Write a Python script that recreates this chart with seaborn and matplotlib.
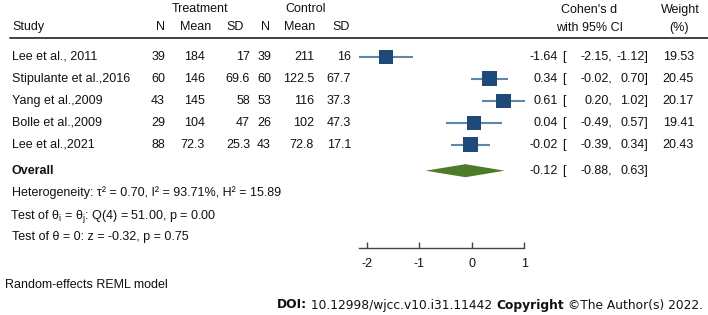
import matplotlib
matplotlib.use("Agg")
import matplotlib.pyplot as plt
import seaborn as sns
import pandas as pd
import numpy as np

# ---------------- data ----------------
studies = ["Lee et al., 2011", "Stipulante et al.,2016", "Yang et al.,2009",
           "Bolle et al.,2009", "Lee et al.,2021"]
t_n = [39, 60, 43, 29, 88]
t_mean = [184, 146, 145, 104, 72.3]
t_sd = [17, 69.6, 58, 47, 25.3]
c_n = [39, 60, 53, 26, 43]
c_mean = [211, 122.5, 116, 102, 72.8]
c_sd = [16, 67.7, 37.3, 47.3, 17.1]
d = [-1.64, 0.34, 0.61, 0.04, -0.02]
d_lo = [-2.15, -0.02, 0.20, -0.49, -0.39]
d_hi = [-1.12, 0.70, 1.02, 0.57, 0.34]
weight = [19.53, 20.45, 20.17, 19.41, 20.43]
overall_d, overall_lo, overall_hi = -0.12, -0.88, 0.63
xticks = [-2, -1, 0, 1]
het_text = "Heterogeneity: τ² = 0.70, I² = 93.71%, H² = 15.89"
q_text = r"Test of θ$_\mathrm{i}$ = θ$_\mathrm{j}$: Q(4) = 51.00, p = 0.00"
z_text = "Test of θ = 0: z = -0.32, p = 0.75"
model_text = "Random-effects REML model"

# ---------------- style ----------------
sns.set_style("white")
plt.rcParams['font.family'] = ['Liberation Sans', 'DejaVu Sans']
plt.rcParams['mathtext.fontset'] = 'custom'
plt.rcParams['mathtext.rm'] = 'Liberation Sans'
plt.rcParams['mathtext.it'] = 'Liberation Sans:italic'
plt.rcParams['mathtext.bf'] = 'Liberation Sans:bold'

W, H = 708, 315
FS = 9
BOX = "#1d4a78"
CI = "#5f87aa"
DIA = "#4f7a2a"
TXT = "#111111"

fig = plt.figure(figsize=(W / 100, H / 100), dpi=100)
ax = fig.add_axes([0, 0, 1, 1])
ax.set_facecolor("none")

# x scale: effect size units; y scale: row units
PX0, PPU = 471.7, 52.4
Y0, DY = 56.7, 22.0
ax.set_xlim(-PX0 / PPU, (W - PX0) / PPU)
ax.set_ylim((H - Y0) / DY, -Y0 / DY)

def ry(py):
    return (py - Y0) / DY

rows = np.arange(len(studies))
df = pd.DataFrame({"row": rows, "d": d, "lo": d_lo, "hi": d_hi, "w": weight})

ax.hlines(df["row"], df["lo"], df["hi"], color=CI, lw=1.5, zorder=2)
sns.scatterplot(data=df, x="d", y="row", marker="s", color=BOX,
                s=np.array(weight) * 5.3, edgecolor="none", ax=ax, zorder=3,
                legend=False)

r_ov = ry(170.7)
h = 6.5 / DY
ax.fill([overall_lo, overall_d, overall_hi, overall_d],
        [r_ov, r_ov - h, r_ov, r_ov + h], color=DIA, lw=0, zorder=3)

for s in ["left", "right", "top"]:
    ax.spines[s].set_visible(False)
ax.spines["bottom"].set_position(("data", ry(248)))
ax.spines["bottom"].set_bounds(min(d_lo), max(xticks))
ax.spines["bottom"].set_color("#444444")
ax.spines["bottom"].set_linewidth(1.0)
ax.set_xticks(xticks)
ax.set_xticklabels([str(t) for t in xticks])
ax.tick_params(axis="x", direction="in", length=4, width=1.0, color="#444444",
               pad=7, labelsize=FS, labelcolor=TXT, bottom=True)
ax.set_yticks([])
ax.set_xlabel("")
ax.set_ylabel("")
ax.grid(False)

# ---------------- text table ----------------
def T(px, py, s, ha="left", va="center", **kw):
    kw.setdefault("fontsize", FS)
    kw.setdefault("color", TXT)
    return fig.text(px / W, 1 - py / H, s, ha=ha, va=va, **kw)

fmt = lambda v: f"{v:g}"

# headers
T(200, 9.3, "Treatment", ha="center")
T(305.5, 9.3, "Control", ha="center")
T(12, 27.3, "Study")
for cx, lab in [(160.5, "N"), (195.5, "Mean"), (235, "SD"),
                (265.5, "N"), (299.5, "Mean"), (341, "SD")]:
    T(cx, 27.3, lab, ha="center")
T(589.5, 10, "Cohen's d", ha="center")
T(589.5, 28, "with 95% CI", ha="center")
T(680.5, 10, "Weight", ha="center")
T(679, 28, "(%)", ha="center")
fig.add_artist(plt.Line2D([10 / W, 1.0], [1 - 38.3 / H, 1 - 38.3 / H],
                          color="#333333", lw=1.3))

for i in rows:
    py = Y0 + DY * i
    T(12, py, studies[i])
    T(165, py, fmt(t_n[i]), ha="right")
    T(205, py, fmt(t_mean[i]), ha="right")
    T(250, py, fmt(t_sd[i]), ha="right")
    T(271, py, fmt(c_n[i]), ha="right")
    T(314, py, fmt(c_mean[i]), ha="right")
    T(351, py, fmt(c_sd[i]), ha="right")
    T(558, py, f"{d[i]:.2f}", ha="right")
    T(562, py, "[")
    T(612, py, f"{d_lo[i]:.2f},", ha="right")
    T(648, py, f"{d_hi[i]:.2f}]", ha="right")
    T(694, py, f"{weight[i]:.2f}", ha="right")

T(12, 170.7, "Overall", fontweight="bold")
T(558, 170.7, f"{overall_d:.2f}", ha="right")
T(562, 170.7, "[")
T(612, 170.7, f"{overall_lo:.2f},", ha="right")
T(648, 170.7, f"{overall_hi:.2f}]", ha="right")

T(12, 192.7, het_text)
T(10.5, 213.5, q_text, va="center_baseline")
T(12, 237.3, z_text)
T(5, 285, model_text)

# ---------------- DOI footer ----------------
pieces = [("DOI:", "bold"), (" 10.12998/wjcc.v10.i31.11442 ", "normal"),
          ("Copyright", "bold"), (" ©The Author(s) 2022.", "normal")]
renderer = fig.canvas.get_renderer()
x_right = 703.0
for txt, wt in reversed(pieces):
    t = fig.text(x_right / W, 1 - 305 / H, txt, ha="right", va="center",
                 fontsize=8.8, fontweight=wt, family="DejaVu Sans", color="#111111")
    wpx = t.get_window_extent(renderer).width
    x_right -= wpx

fig.savefig("out.png", dpi=100)
